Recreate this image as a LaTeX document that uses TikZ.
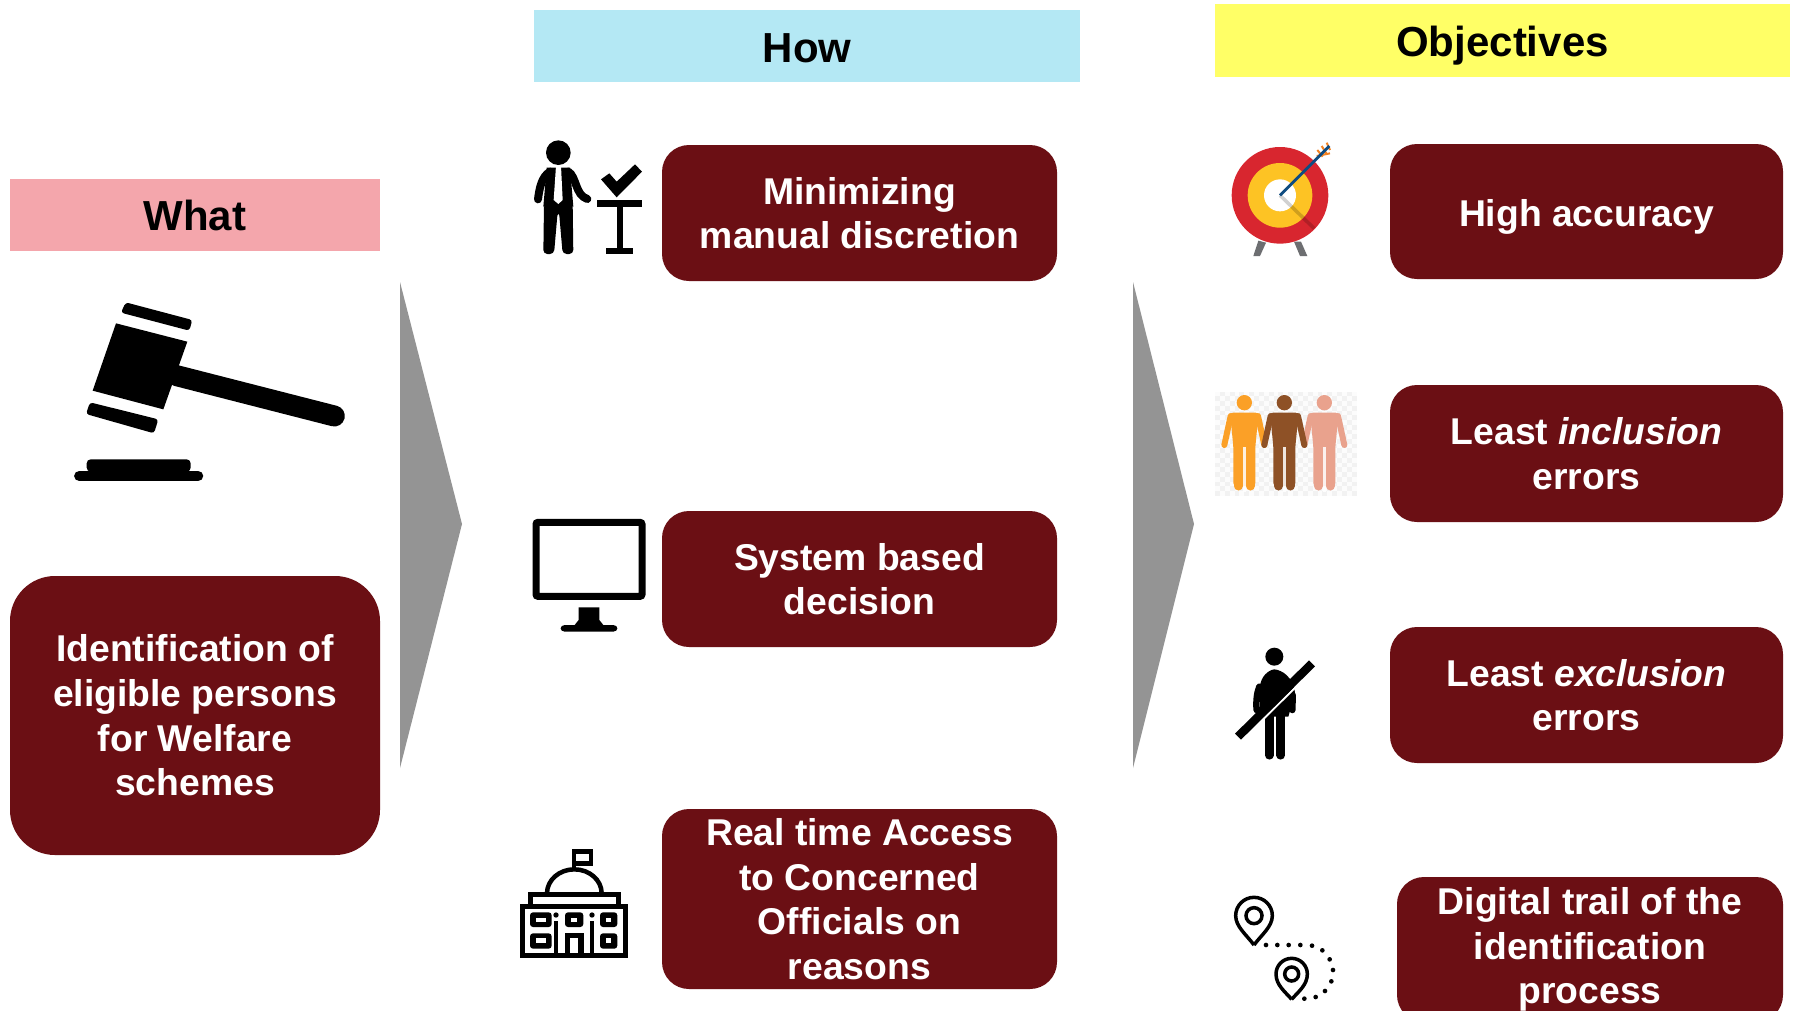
\documentclass[tikz,border=0pt]{standalone}
\usepackage{fontspec}
\setmainfont{Liberation Sans}
\definecolor{boxred}{HTML}{6B0F14}
\definecolor{arrowgray}{HTML}{949494}
\definecolor{whatc}{HTML}{F4A6AC}
\definecolor{howc}{HTML}{B4E8F4}
\definecolor{objc}{HTML}{FFFF66}
\definecolor{tgtred}{HTML}{D8262F}
\definecolor{tgtyel}{HTML}{FDC324}
\definecolor{tgtleg}{HTML}{6D6E71}
\definecolor{arrowblue}{HTML}{0F4C81}
\definecolor{featherc}{HTML}{F58220}
\begin{document}
\begin{tikzpicture}[x=1pt,y=-1pt,
  bx/.style={fill=boxred,text=white,inner sep=0pt,rounded corners=27pt,align=center,
    font=\fontsize{37.3}{44.6}\selectfont\bfseries},
  hdr/.style={inner sep=0pt,text=black,font=\fontsize{42}{50}\selectfont\bfseries,text depth=0pt},
  big/.style={fill=arrowgray,draw=none},
  zm/.style 2 args={x=1pt/3,y=-1pt/3,shift={(#1pt,-#2pt)}}]
\path[use as bounding box,clip] (0,0) rectangle (1794,1010);
\fill[white] (0,0) rectangle (1794,1010);
% headers
\node[hdr,fill=whatc,minimum width=370pt,minimum height=72pt,text height=31pt] (what) at (195,215) {What};
\node[hdr,fill=howc,minimum width=546pt,minimum height=72pt,text height=32.5pt] (how) at (807,46) {How};
\node[hdr,fill=objc,minimum width=575pt,minimum height=73pt,text height=31pt] (obj) at (1502.5,40.5) {Objectives};
% boxes
\node[bx,rounded corners=45pt,minimum width=370pt,minimum height=279pt] (idn) at (195,715.5)
  {Identification of\\eligible persons\\for Welfare\\schemes};
\node[bx,minimum width=395pt,minimum height=136pt] (h1) at (859.5,213) {Minimizing\\manual discretion};
\node[bx,minimum width=395pt,minimum height=136pt] (h2) at (859.5,579) {System based\\decision};
\node[bx,minimum width=395pt,minimum height=180pt] (h3) at (859.5,899) {Real time Access\\to Concerned\\Officials on\\reasons};
\node[bx,minimum width=393pt,minimum height=135pt,text height=30.5pt,text depth=0pt] (o1) at (1586.5,211.5) {High accuracy};
\node[bx,minimum width=393pt,minimum height=137pt] (o2) at (1586.5,453.5) {Least \textit{inclusion}\\errors};
\node[bx,minimum width=393pt,minimum height=136pt] (o3) at (1586.5,695) {Least \textit{exclusion}\\errors};
\node[bx,minimum width=386pt,minimum height=145pt] (o4) at (1590,949.5) {Digital trail of the\\identification\\process};
% large chevrons
\fill[big] (400,282) -- (462,524) -- (400,768) -- cycle;
\fill[big] (1133,282) -- (1194,524) -- (1133,768) -- cycle;
% gavel
\begin{scope}[zm={60}{290}]
\fill (168,100) -- (382,155) -- (310,358) -- (98,302) -- cycle;
\fill[rounded corners=3pt] (183,68) -- (197,37) -- (397,90) -- (388,122) -- cycle;
\fill[rounded corners=3pt] (90,337) -- (295,388) -- (282,430) -- (78,372) -- cycle;
\draw[line width=21pt,line cap=round] (350,257) -- (823,378);
\fill[rounded corners=4pt] (80,545) -- (80,508) -- (392,508) -- (392,545) -- cycle;
\draw[line width=10.5pt,line cap=round] (58,558) -- (414,558);
\end{scope}
% person at lectern
\begin{scope}[zm={500}{120}]
\fill (175,98) circle[radius=37];
\fill (140,143) -- (210,143) -- (220,260) -- (130,260) -- cycle;
\draw[line width=8pt,line cap=round] (150,155) .. controls (125,170) and (118,205) .. (114,238);
\draw[line width=8pt,line cap=round] (205,155) .. controls (230,170) and (225,225) .. (262,237);
\fill[rounded corners=4pt] (132,250) -- (130,402) -- (162,402) -- (173,275) -- (177,275) -- (188,402) -- (220,402) -- (218,250) -- cycle;
\fill[white] (168,138) -- (183,138) -- (188,240) -- (175,252) -- (161,240) -- cycle;
\fill (303,178) -- (328,160) -- (350,185) -- (405,133) -- (426,155) -- (350,232) -- cycle;
\fill (291,241) rectangle (426,261);
\fill (350,261) rectangle (370,385);
\fill (318,383) rectangle (400,402);
\end{scope}
% monitor
\begin{scope}[zm={520}{510}]
\draw[line width=7pt,rounded corners=2pt] (48,37) rectangle (366,259);
\fill (176,292) -- (238,292) -- (238,330) -- (250,345) -- (280,345)
  .. controls (296,346) and (296,364) .. (280,365) -- (134,365)
  .. controls (118,364) and (118,346) .. (134,345) -- (164,345) -- (176,330) -- cycle;
\end{scope}
% government building
\begin{scope}[zm={500}{830}]
\draw[line width=4.5pt] (222,120) -- (222,64) -- (273,64) -- (273,100) -- (222,100);
\draw[line width=4.5pt] (141,190) arc[start angle=180,end angle=360,x radius=82,y radius=72];
\draw[line width=5pt] (90,222) -- (90,194) -- (355,194) -- (355,222);
\fill (60,222) rectangle (385,385);
\fill[white] (76,238) rectangle (369,370);
\foreach \xa/\xb in {90/155,195/250,300/352}{
  \fill[rounded corners=3pt] (\xa,247) rectangle (\xb,291);
  \fill[white] (\xa+18,263) rectangle (\xb-18,276);
}
\foreach \xa/\xb in {90/155,300/352}{
  \fill[rounded corners=3pt] (\xa,310) rectangle (\xb,356);
  \fill[white] (\xa+18,324) rectangle (\xb-18,340);
}
\draw[line width=5.5pt] (202,372) -- (202,316) -- (243,316) -- (243,372);
\foreach \xc in {168,276}{
  \fill (\xc,255) circle[radius=8];
  \fill (\xc-6,272) rectangle (\xc+6,372);
}
\end{scope}
% target
\begin{scope}[zm={1200}{130}]
\fill[tgtleg] (175,332) -- (198,338) -- (180,378) -- (160,378) -- cycle;
\fill[tgtleg] (282,335) -- (303,335) -- (322,378) -- (300,378) -- cycle;
\fill[tgtred] (240,196) circle[radius=145];
\fill[tgtyel] (240,196) circle[radius=97];
\fill[white] (240,196) circle[radius=48];
\draw[black,opacity=.18,line width=3.5pt] (240,196) -- (342,295);
\draw[featherc,line width=2pt]
  (352,60) -- (368,80) (365,48) -- (380,72) (380,38) -- (390,60) (350,78) -- (390,70);
\draw[arrowblue,line width=2.8pt] (240,196) -- (388,48);
\end{scope}
% three people
\begin{scope}[zm={1200}{380}]
\fill[black!5] (45,35) rectangle (470,348);
\foreach \i in {0,...,28}{\foreach \j in {0,...,21}{
  \pgfmathtruncatemacro{\k}{mod(\i+\j,2)}
  \ifnum\k=0 \fill[white,opacity=.8] (45+14.65*\i,35+14.2*\j) rectangle (59.65+14.65*\i,49.2+14.2*\j);\fi
}}
\foreach \dx/\cc in {0/FBA027,240/E9A28D,120/8E5126}{
  \definecolor{pc}{HTML}{\cc}
  \begin{scope}[shift={(\dx*1pt/3,0)}]
  \fill[pc] (133,68) circle[radius=23];
  \fill[pc,rounded corners=3pt] (90,98) -- (176,98) -- (166,200) -- (166,318) -- (100,318) -- (100,200) -- cycle;
  \draw[pc,line width=6pt,line cap=round] (92,108) -- (73,195);
  \draw[pc,line width=6pt,line cap=round] (174,108) -- (193,195);
  \draw[pc,line width=9pt,line cap=round] (115,200) -- (115,318);
  \draw[pc,line width=9pt,line cap=round] (151,200) -- (151,318);
  \fill[white,opacity=.85] (129,200) rectangle (137,335);
  \end{scope}
}
\end{scope}
% person struck out
\begin{scope}[zm={1210}{630}]
\fill (193,80) circle[radius=27];
\fill (150,170) .. controls (152,140) and (175,120) .. (193,118)
  .. controls (215,120) and (250,140) .. (255,190) -- (235,260) -- (150,260) -- cycle;
\draw[line width=6.5pt,line cap=round] (148,170) .. controls (140,190) and (138,215) .. (140,240);
\draw[line width=6.5pt,line cap=round] (248,195) -- (247,240);
\draw[line width=8.5pt,line cap=round] (178,250) -- (178,376);
\draw[line width=8.5pt,line cap=round] (212,250) -- (212,376);
\draw[white,line width=2pt] (92,334) -- (312,117);
\draw[line width=8.5pt] (84,320) -- (306,100);
\end{scope}
% map pins
\begin{scope}[zm={1210}{880}]
\draw[line width=3.5pt,line join=round] (132,195) .. controls (110,165) and (77,140) .. (77,107)
  arc[start angle=180,end angle=360,radius=55]
  .. controls (187,140) and (154,165) .. (132,195);
\draw[line width=3.5pt] (132,107) circle[radius=24];
\draw[line width=3.5pt,line join=round] (245,358) .. controls (225,335) and (198,315) .. (198,282)
  arc[start angle=180,end angle=360,radius=47]
  .. controls (292,315) and (265,335) .. (245,358);
\draw[line width=3.5pt] (245,282) circle[radius=21];
\foreach \dx/\dy in {168/195,202/195,236/195,271/195,306/197,337/211,359/238,369/270,364/304,345/333,317/351,283/356}{
  \fill (\dx,\dy) circle[radius=7];
}
\end{scope}
\end{tikzpicture}
\end{document}
